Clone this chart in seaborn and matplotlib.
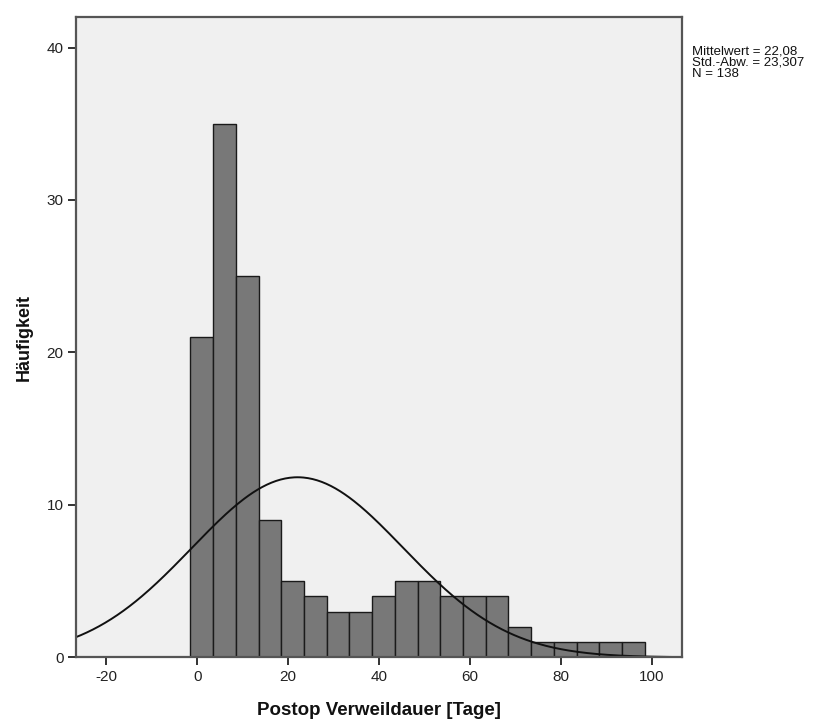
import numpy as np
import pandas as pd
import matplotlib
matplotlib.use("Agg")
import matplotlib.pyplot as plt
import seaborn as sns

# Histogram data (bin width 5 days)
bin_edges = [-1.5, 3.5, 8.5, 13.5, 18.5, 23.5, 28.5, 33.5, 38.5, 43.5, 48.5,
             53.5, 58.5, 63.5, 68.5, 73.5, 78.5, 83.5, 88.5, 93.5, 98.5]
counts = [21, 35, 25, 9, 5, 4, 3, 3, 4, 5, 5, 4, 4, 4, 2, 1, 1, 1, 1, 1]
mean_val = 22.08
sd_val = 23.307
n_val = 138
x_ticks = [-20, 0, 20, 40, 60, 80, 100]
y_ticks = [0, 10, 20, 30, 40]
stats_lines = ["Mittelwert = 22,08", "Std.-Abw. = 23,307", "N = 138"]

sns.set_theme(style="white")
plt.rcParams['font.family'] = ['Liberation Sans', 'DejaVu Sans']
plt.rcParams['axes.unicode_minus'] = False

centers = [(a + b) / 2 for a, b in zip(bin_edges[:-1], bin_edges[1:])]
df = pd.DataFrame({"x": centers, "w": counts})

fig = plt.figure(figsize=(8.32, 7.24), dpi=100)
ax = fig.add_axes([0.0913, 0.0921, 0.7284, 0.8844])
ax.set_facecolor("#f0f0f0")

sns.histplot(data=df, x="x", weights="w", bins=bin_edges, ax=ax,
             color="#787878", edgecolor="#1a1a1a", linewidth=1.0, alpha=1.0)

bw = bin_edges[1] - bin_edges[0]
xs = np.linspace(-27, 107, 400)
ys = n_val * bw * np.exp(-0.5 * ((xs - mean_val) / sd_val) ** 2) / (sd_val * np.sqrt(2 * np.pi))
sns.lineplot(x=xs, y=ys, ax=ax, color="#111111", linewidth=1.4)

ax.set_xlim(-26.7, 106.7)
ax.set_ylim(0, 42)
ax.set_xticks(x_ticks)
ax.set_yticks(y_ticks)
ax.tick_params(axis="both", which="both", direction="out", length=6, width=1.3,
               color="#222222", labelsize=11, labelcolor="#222222",
               bottom=True, left=True, top=False, right=False, pad=3)
for lab in ax.get_xticklabels() + ax.get_yticklabels():
    lab.set_family(['Liberation Sans Narrow', 'Liberation Sans', 'DejaVu Sans'])
for s in ax.spines.values():
    s.set_color("#555555")
    s.set_linewidth(1.6)

ax.set_xlabel("Postop Verweildauer [Tage]", fontsize=13.5, fontweight="bold",
              color="#111111", labelpad=13)
ax.set_ylabel("Häufigkeit", fontsize=13, fontweight="bold", color="#111111",
              labelpad=10)

fig.text(0.832, 0.937, "\n".join(stats_lines), fontsize=9.5, color="#111111",
         va="top", ha="left", linespacing=0.92)

fig.savefig("out.png", dpi=100)
